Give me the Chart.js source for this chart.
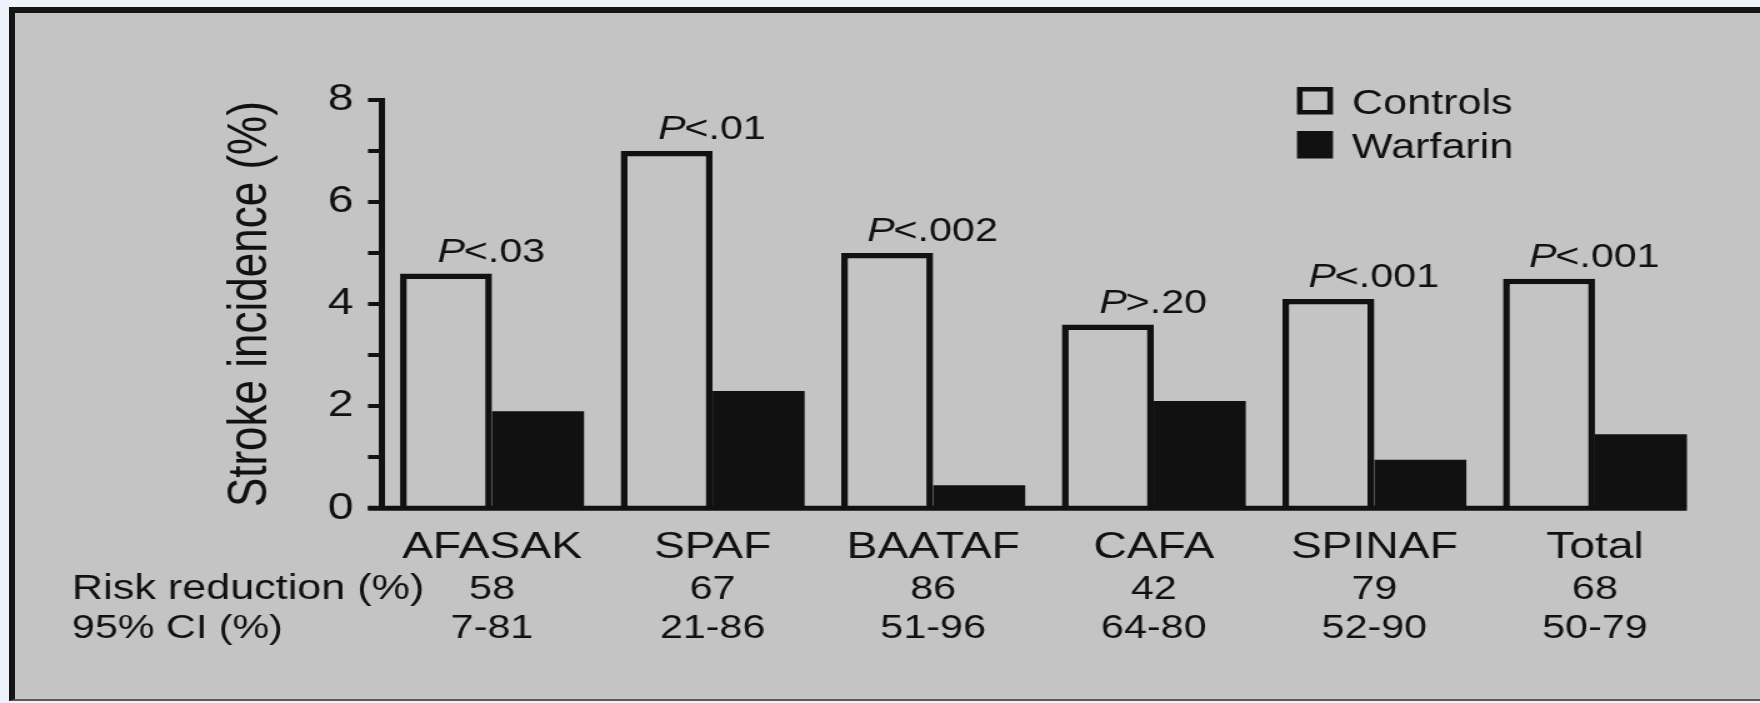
<!DOCTYPE html>
<html>
<head>
<meta charset="utf-8">
<title>Stroke incidence: controls vs warfarin</title>
<script src="https://cdn.jsdelivr.net/npm/chart.js@4.4.1/dist/chart.umd.min.js"></script>
<style>
  html, body { margin: 0; padding: 0; width: 1760px; height: 703px; overflow: hidden; background: #eef2fa; }
  #frame {
    position: absolute; left: 9px; top: 7px; width: 1751px; height: 694px; box-sizing: border-box;
    background: #c4c4c4; border-left: 6px solid #141414; border-top: 6px solid #141414; border-bottom: 2px solid #5a5a5a;
  }
  #chart { position: absolute; left: 0; top: 0; }
</style>
</head>
<body>
<div id="frame"></div>
<!-- the drawing surface is laid out narrow and widened by CSS, giving the wide lettering of the figure -->
<canvas id="chart" width="1408" height="703" style="width:1760px;height:703px"></canvas>
<script>
// Trials and total
const categories = ['AFASAK', 'SPAF', 'BAATAF', 'CAFA', 'SPINAF', 'Total'];
// Stroke incidence (%) per group
const controls = [4.6, 7.0, 5.0, 3.6, 4.1, 4.5];
const warfarin = [1.9, 2.3, 0.45, 2.1, 0.95, 1.45];
// P value above each pair (the italic P is added when drawn)
const pValues = ['<.03', '<.01', '<.002', '>.20', '<.001', '<.001'];
// Table rows under the axis
const riskReduction = ['58', '67', '86', '42', '79', '68'];
const ci95 = ['7-81', '21-86', '51-96', '64-80', '52-90', '50-79'];
const rowLabels = ['Risk reduction (%)', '95% CI (%)'];
// y axis: ticks every 1, labels on even values
const yTickValues = [0, 1, 2, 3, 4, 5, 6, 7, 8];
const yTickLabels = ['0', '', '2', '', '4', '', '6', '', '8'];

const FONT = '"Liberation Sans", Arial, Helvetica, sans-serif';
const INK = '#111111';
const PANEL = '#c4c4c4';

const annotations = {
  id: 'annotations',
  afterDatasetsDraw(chart) {
    const { ctx, scales: { x, y }, chartArea } = chart;
    const ctrl = chart.getDatasetMeta(0).data;
    const warf = chart.getDatasetMeta(1).data;
    ctx.save();

    // x baseline: from the y tick start to the right edge of the last bar
    const y0 = y.getPixelForValue(0);
    const last = warf[warf.length - 1];
    ctx.strokeStyle = INK;
    ctx.lineWidth = 5;
    ctx.beginPath();
    ctx.moveTo(chartArea.left - 11, y0);
    ctx.lineTo(last.x + last.width / 2, y0);
    ctx.stroke();

    // P values over each pair
    ctx.fillStyle = INK;
    ctx.textBaseline = 'alphabetic';
    ctx.textAlign = 'left';
    const italic = `italic 33px ${FONT}`;
    const upright = `33px ${FONT}`;
    pValues.forEach((txt, i) => {
      const cx = x.getPixelForValue(i);
      const by = ctrl[i].y - 12;
      ctx.font = italic;
      const wP = ctx.measureText('P').width;
      ctx.font = upright;
      const wT = ctx.measureText(txt).width;
      const sx = cx - (wP + wT) / 2;
      ctx.font = italic;
      ctx.fillText('P', sx, by);
      ctx.font = upright;
      ctx.fillText(txt, sx + wP - 1, by);
    });
    ctx.restore();
  },
  afterDraw(chart) {
    const { ctx, scales: { x } } = chart;
    ctx.save();
    ctx.fillStyle = INK;
    ctx.textBaseline = 'alphabetic';

    // table rows
    const rows = [riskReduction, ci95];
    const baselines = [599, 638];
    ctx.textAlign = 'left';
    ctx.font = `34.5px ${FONT}`;
    ctx.fillText(rowLabels[0], 57.6, baselines[0]);
    ctx.font = `33px ${FONT}`;
    ctx.fillText(rowLabels[1], 57.6, baselines[1]);
    ctx.font = `33px ${FONT}`;
    ctx.textAlign = 'center';
    rows.forEach((row, r) => {
      row.forEach((txt, i) => ctx.fillText(txt, x.getPixelForValue(i), baselines[r]));
    });

    // legend
    const boxX = 1037.6, boxW = 28.8;
    const boxTops = [87, 131], boxH = 27.5;
    const textBase = [113.5, 157.5];
    chart.data.datasets.forEach((ds, k) => {
      const top = boxTops[k];
      ctx.fillStyle = ds.backgroundColor;
      ctx.fillRect(boxX, top, boxW, boxH);
      if (ds.borderWidth) {
        ctx.strokeStyle = ds.borderColor;
        ctx.lineWidth = 4.5;
        ctx.strokeRect(boxX + 2.25, top + 2.25, boxW - 4.5, boxH - 4.5);
      }
      ctx.fillStyle = INK;
      ctx.font = `34.5px ${FONT}`;
      ctx.textAlign = 'left';
      ctx.fillText(ds.label, 1081.6, textBase[k]);
    });
    ctx.restore();
  }
};

new Chart(document.getElementById('chart'), {
  type: 'bar',
  data: {
    labels: categories,
    datasets: [
      {
        label: 'Controls',
        data: controls,
        backgroundColor: PANEL,
        borderColor: INK,
        borderWidth: 5.5,
        borderSkipped: 'start',
        categoryPercentage: 0.834,
        barPercentage: 1.0
      },
      {
        label: 'Warfarin',
        data: warfarin,
        backgroundColor: INK,
        borderWidth: 0,
        categoryPercentage: 0.834,
        barPercentage: 1.0
      }
    ]
  },
  options: {
    responsive: false,
    animation: false,
    events: [],
    layout: { padding: { left: 150, top: 100, right: 43.8, bottom: 0 } },
    plugins: { legend: { display: false }, tooltip: { enabled: false } },
    scales: {
      x: {
        type: 'category',
        offset: true,
        grid: { display: false, drawTicks: false },
        border: { display: false },
        ticks: {
          color: INK, padding: 17, autoSkip: false, maxRotation: 0,
          font: { family: FONT, size: 37 }
        },
        afterFit(scale) { scale.height = 194.7; }
      },
      y: {
        min: 0,
        max: 8,
        afterBuildTicks(scale) { scale.ticks = yTickValues.map(v => ({ value: v })); },
        ticks: {
          color: INK, padding: 11.5,
          font: { family: FONT, size: 37 },
          callback: (v) => yTickLabels[yTickValues.indexOf(v)]
        },
        grid: { drawOnChartArea: false, drawTicks: true, tickLength: 11, lineWidth: 4, color: INK },
        border: { display: true, color: INK, width: 5 },
        title: {
          display: true, text: 'Stroke incidence (%)', color: INK,
          font: { family: FONT, size: 44 }, padding: { top: 24, bottom: 0 }
        },
        afterFit(scale) { scale.width = 155.4; }
      }
    }
  },
  plugins: [annotations]
});
</script>
</body>
</html>
